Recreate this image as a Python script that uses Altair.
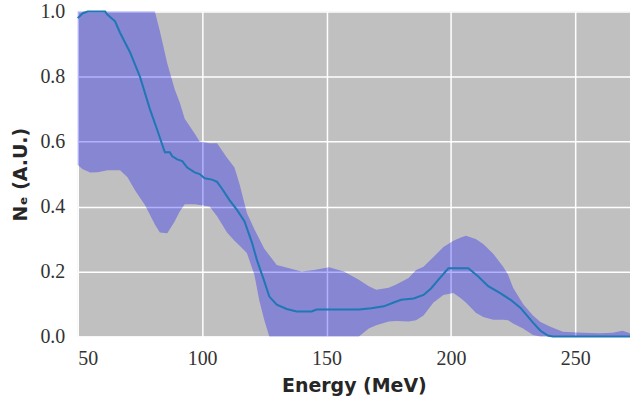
import altair as alt
import pandas as pd

# Band (shaded range)
band_e = [50, 52, 55, 58, 62, 67, 70, 73, 77, 81, 83, 86, 89, 91, 93, 97, 99, 103, 106, 110,
          113, 115, 118, 121, 123, 125, 127, 130, 135, 140, 145, 151, 157, 163, 167, 170, 175,
          178, 183, 186, 189, 191, 193, 197, 201, 204, 206, 210, 213, 217, 221, 223, 225, 229,
          233, 236, 240, 245, 253, 260, 265, 269, 272]
band_hi = [1.0, 1.0, 1.0, 1.0, 1.0, 1.0, 1.0, 1.0, 1.0, 1.0, 0.94, 0.84, 0.76, 0.72, 0.67, 0.625,
           0.60, 0.595, 0.595, 0.55, 0.52, 0.47, 0.38, 0.33, 0.30, 0.27, 0.25, 0.22, 0.21, 0.20,
           0.205, 0.213, 0.20, 0.175, 0.155, 0.144, 0.15, 0.16, 0.18, 0.205, 0.215, 0.23, 0.245,
           0.276, 0.295, 0.305, 0.31, 0.30, 0.285, 0.255, 0.215, 0.19, 0.15, 0.10, 0.065, 0.045,
           0.03, 0.015, 0.012, 0.01, 0.012, 0.018, 0.01]
band_lo = [0.528, 0.515, 0.505, 0.506, 0.512, 0.512, 0.49, 0.45, 0.405, 0.345, 0.32, 0.318,
           0.355, 0.385, 0.407, 0.407, 0.405, 0.40, 0.37, 0.32, 0.295, 0.28, 0.257, 0.19, 0.11,
           0.05, 0.0, 0.0, 0.0, 0.0, 0.0, 0.0, 0.0, 0.0, 0.025, 0.035, 0.046, 0.048, 0.046, 0.05,
           0.065, 0.085, 0.105, 0.128, 0.134, 0.118, 0.105, 0.073, 0.06, 0.052, 0.052, 0.05,
           0.04, 0.025, 0.005, 0.0, 0.0, 0.0, 0.0, 0.0, 0.0, 0.0, 0.0]

# Mean line
line_e = [50, 52, 54, 61, 62, 65, 67, 71, 75, 79, 82, 85, 87, 88, 90, 92, 94, 97, 99, 101, 104,
          106, 108, 111, 114, 117, 120, 122, 125, 127, 130, 134, 138, 144, 146, 163, 168, 173,
          177, 180, 185, 189, 192, 195, 199, 207, 211, 215, 220, 224, 228, 233, 236, 239, 241, 272]
line_v = [0.98, 0.995, 1.0, 1.0, 0.99, 0.97, 0.935, 0.875, 0.80, 0.70, 0.635, 0.567, 0.567,
          0.555, 0.545, 0.54, 0.52, 0.505, 0.50, 0.487, 0.483, 0.476, 0.455, 0.42, 0.39, 0.355,
          0.29, 0.236, 0.17, 0.123, 0.098, 0.085, 0.077, 0.077, 0.083, 0.083, 0.087, 0.093,
          0.105, 0.113, 0.117, 0.128, 0.148, 0.175, 0.21, 0.21, 0.185, 0.155, 0.133, 0.113,
          0.088, 0.043, 0.018, 0.003, 0.0, 0.0]

x_ticks = [50, 100, 150, 200, 250]
y_ticks = [0.0, 0.2, 0.4, 0.6, 0.8, 1.0]

band_df = pd.DataFrame({"E": band_e, "hi": band_hi, "lo": band_lo})
line_df = pd.DataFrame({"E": line_e, "v": line_v})

common = dict(
    grid=True, gridColor="white", gridWidth=1.5, gridOpacity=1,
    domain=False, ticks=False,
    labelFont="Liberation Serif", labelFontSize=20, labelColor="#333333",
    titleFont="DejaVu Sans", titleFontWeight="bold", titleFontSize=19, titleColor="#262626",
)
ax = alt.Axis(values=x_ticks, title="Energy (MeV)", format="d",
              labelPadding=12, titlePadding=8, **common)
ay = alt.Axis(values=y_ticks, title="Nₑ (A.U.)", format=".1f",
              labelPadding=13, titlePadding=9, **common)

xscale = alt.Scale(domain=[50, 272], nice=False, zero=False)
yscale = alt.Scale(domain=[0, 1], nice=False)

band = alt.Chart(band_df).mark_area(color="#0000ff", opacity=0.3).encode(
    x=alt.X("E:Q", scale=xscale, axis=ax),
    y=alt.Y("hi:Q", scale=yscale, axis=ay),
    y2="lo:Q",
)
line = alt.Chart(line_df).mark_line(color="#1f77b4", strokeWidth=2).encode(
    x=alt.X("E:Q", scale=xscale),
    y=alt.Y("v:Q", scale=yscale),
)

chart = (
    alt.layer(band, line)
    .properties(
        width=554,
        height=326,
        padding={"left": 12, "top": 1, "right": 0, "bottom": 5},
    )
    .configure_view(fill="#c0c0c0", stroke=None)
)

chart.save("out.html", embed_options={"renderer": "svg", "actions": False})
